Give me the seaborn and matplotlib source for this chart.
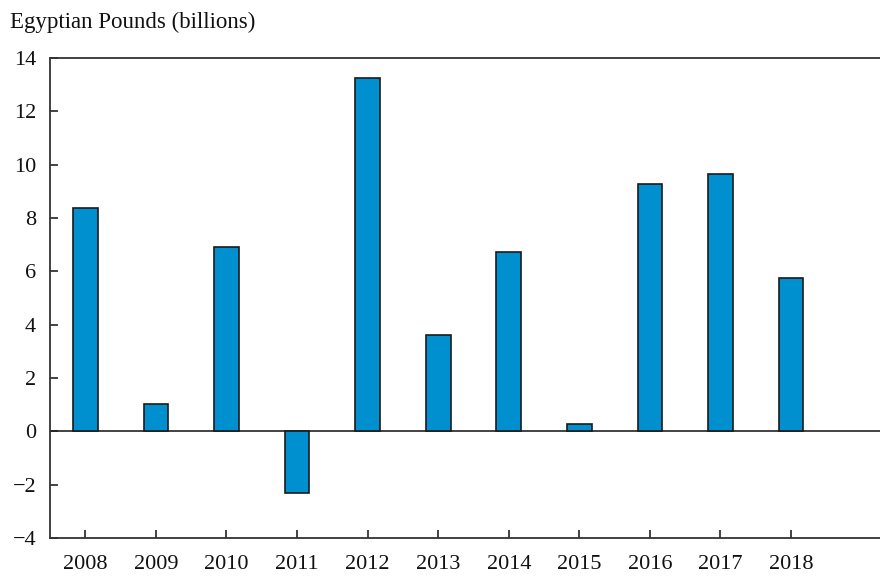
import matplotlib
matplotlib.use("Agg")
import matplotlib.pyplot as plt
import seaborn as sns
import pandas as pd

years = ["2008", "2009", "2010", "2011", "2012", "2013", "2014", "2015", "2016", "2017", "2018"]
values = [8.38, 1.02, 6.92, -2.30, 13.25, 3.63, 6.73, 0.26, 9.26, 9.65, 5.75]
yticks = [-4, -2, 0, 2, 4, 6, 8, 10, 12, 14]
ylabel_text = "Egyptian Pounds (billions)"

sns.set_style("white")
plt.rcParams["font.family"] = ["Liberation Serif", "DejaVu Serif"]

df = pd.DataFrame({"year": years, "value": values})

fig = plt.figure(figsize=(8.8, 5.76), dpi=100)
ax = fig.add_axes([50 / 880, 1 - 538 / 576, 1 - 50 / 880, (538 - 58) / 576])

sns.barplot(data=df, x="year", y="value", color="#0090D0", saturation=1,
            width=0.35, edgecolor="#1a1a1a", linewidth=1.2, ax=ax)

ax.axhline(0, color="#222222", linewidth=1.2, zorder=0.5)
ax.set_xlim(-0.5, 11.26)
ax.set_ylim(-4, 14)
ax.set_yticks(yticks)
ax.set_yticklabels([str(t).replace("-", "\u2212") for t in yticks])
ax.set_xlabel("")
ax.set_ylabel("")

for side in ["left", "top", "bottom"]:
    ax.spines[side].set_visible(True)
    ax.spines[side].set_color("#333333")
    ax.spines[side].set_linewidth(1.3)
ax.spines["right"].set_visible(False)

ax.tick_params(axis="both", direction="in", length=6, width=1.2, colors="#222222",
               labelsize=16, labelcolor="#111111", bottom=True, left=True,
               top=False, right=False)
ax.tick_params(axis="x", pad=12)
ax.tick_params(axis="y", pad=10)

fig.text(10 / 880, 1 - 22 / 576, ylabel_text, fontsize=16.5, color="#111111",
         ha="left", va="center")

fig.savefig("out.png", dpi=100)
